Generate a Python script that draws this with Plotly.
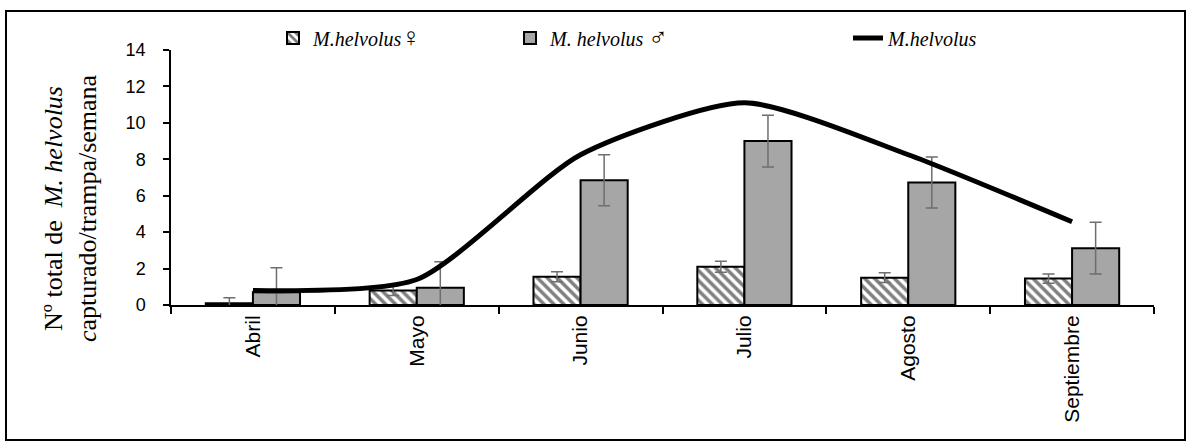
import plotly.graph_objects as go

months = ["Abril", "Mayo", "Junio", "Julio", "Agosto", "Septiembre"]
female = [0.1, 0.8, 1.55, 2.1, 1.5, 1.45]
female_err = [0.3, 0.28, 0.27, 0.3, 0.27, 0.25]
male = [0.7, 0.95, 6.85, 9.0, 6.72, 3.12]
male_err = [1.35, 1.42, 1.4, 1.42, 1.4, 1.42]
total = [0.8, 1.4, 8.25, 11.1, 8.25, 4.57]

y_ticks = [0, 2, 4, 6, 8, 10, 12, 14]

W, H = 1192, 442
L, R, T, B = 171, 38, 50, 137
pw, ph = W - L - R, H - T - B

def px_x(p):
    return (p - L) / pw

def px_y(p):
    return (H - B - p) / ph

sym = '<span style="font-size:26px">{}</span>'

fig = go.Figure()
fig.add_trace(go.Bar(
    x=months, y=female, name="<i>M.helvolus</i>" + sym.format("♀"),
    marker=dict(color="white", line=dict(color="black", width=2),
                pattern=dict(shape="\\", fgcolor="black", bgcolor="white", size=7, solidity=0.5)),
    error_y=dict(type="data", array=female_err, color="#6e6e6e", thickness=1.5, width=6),
    legend="legend",
))
fig.add_trace(go.Bar(
    x=months, y=male, name="<i>M. helvolus</i> " + sym.format("♂"),
    marker=dict(color="#a6a6a6", line=dict(color="black", width=2)),
    error_y=dict(type="data", array=male_err, color="#6e6e6e", thickness=1.5, width=6),
    legend="legend2",
))
fig.add_trace(go.Scatter(
    x=months, y=total, name="<i>M.helvolus</i>", mode="lines",
    line=dict(color="black", width=5, shape="spline", smoothing=0.65),
    legend="legend3",
))

legend_font = dict(family="Liberation Serif", size=20, color="black")
leg_common = dict(orientation="h", xref="container", yref="container",
                  xanchor="left", yanchor="middle", y=1 - 38 / H, font=legend_font,
                  bgcolor="rgba(0,0,0,0)")

fig.update_layout(
    width=W, height=H,
    font=dict(family="Liberation Serif", color="black"),
    margin=dict(l=L, r=R, t=T, b=B, autoexpand=False),
    paper_bgcolor="white", plot_bgcolor="rgba(0,0,0,0)",
    barmode="group", bargap=0.425, bargroupgap=0,
    legend=dict(x=(315 - 42) / W, **leg_common),
    legend2=dict(x=(552 - 42) / W, **leg_common),
    legend3=dict(x=(890 - 42) / W, **leg_common),
    xaxis=dict(
        type="category", showline=True, linecolor="black", linewidth=2,
        ticks="outside", ticklen=7, tickwidth=1.5, tickcolor="black",
        tickson="boundaries", tickangle=-90,
        tickfont=dict(family="Liberation Sans", size=21, color="black"),
        showgrid=False, zeroline=False,
    ),
    yaxis=dict(
        range=[0, 14], tickvals=y_ticks, ticktext=[str(v) for v in y_ticks],
        showline=True, linecolor="black", linewidth=1.5,
        ticks="outside", ticklen=6, tickwidth=1.5, tickcolor="black",
        ticklabelstandoff=14,
        tickfont=dict(family="Liberation Sans", size=18, color="black"),
        showgrid=False, zeroline=False,
    ),
    annotations=[dict(
        text="Nº total de  <i>M. helvolus</i><br><i>c</i>apturado/trampa/semana",
        xref="paper", yref="paper", x=px_x(70), y=px_y(208),
        xanchor="center", yanchor="middle", textangle=-90, showarrow=False,
        font=dict(family="Liberation Serif", size=26, color="black"),
    )],
    shapes=[dict(
        type="rect", xref="paper", yref="paper",
        x0=px_x(6), x1=px_x(1185), y0=px_y(440), y1=px_y(11),
        line=dict(color="black", width=2), fillcolor="rgba(0,0,0,0)", layer="below",
    )],
    showlegend=True,
)

fig.write_html("out.html", config={"displayModeBar": False},
               post_script="document.body.style.margin='0';")
